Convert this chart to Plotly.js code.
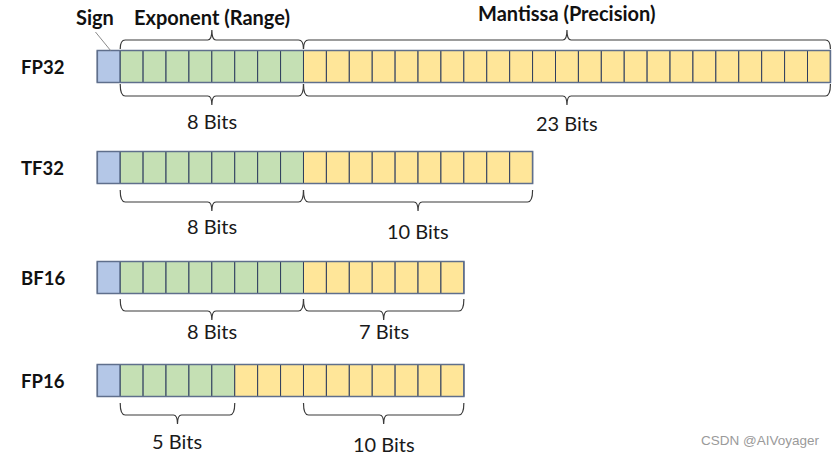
<!DOCTYPE html>
<html>
<head>
<meta charset="utf-8">
<script src="https://cdn.plot.ly/plotly-3.0.1.min.js"></script>
<style>html,body{margin:0;padding:0;background:#fff;}#chart{width:836px;height:457px;}</style>
</head>
<body>
<div id="chart"></div>
<script>
// ---- data ----
const formats = ['FP32', 'TF32', 'BF16', 'FP16'];
const signBits = [1, 1, 1, 1];
const exponentBits = [8, 8, 8, 5];
const mantissaBits = [23, 10, 7, 10];
const exponentLabels = ['8 Bits', '8 Bits', '8 Bits', '5 Bits'];
const mantissaLabels = ['23 Bits', '10 Bits', '7 Bits', '10 Bits'];
// bits spanned by the mantissa brace as drawn (FP16 brace covers the last 7 cells)
const mantissaBraceBits = [23, 10, 7, 7];
const topLabels = ['Sign', 'Exponent (Range)', 'Mantissa (Precision)'];
const watermark = 'CSDN @AIVoyager';

// ---- layout / style constants ----
const W = 836, H = 457;
const cellPx = 22.91, originPx = 97.3;
const rowTop = [50.5, 151.5, 261.5, 364.5];
const rowH = 32;
const braceTop = [84, 190, 299, 403];
const braceDepth = 12, braceTip = 9;
const expLabelY = [121, 226, 331, 441];
const manLabelY = [123, 231, 331, 444];
const colors = {sign: '#b4c7e7', exp: '#c5e0b4', man: '#ffe699', cell: '#2e3d5e', outer: '#5f6f8c'};
const font = 'Lato, "Open Sans", sans-serif';

const shapes = [];
const annotations = [];

function bracePath(x0, x1, yEnd, yLine, yTip) {
  const r = 0.22, t = 0.18;
  const xm = (x0 + x1) / 2;
  return `M${x0},${yEnd} Q${x0},${yLine} ${x0 + r},${yLine} L${xm - t},${yLine} ` +
         `Q${xm},${yLine} ${xm},${yTip} Q${xm},${yLine} ${xm + t},${yLine} ` +
         `L${x1 - r},${yLine} Q${x1},${yLine} ${x1},${yEnd}`;
}

formats.forEach((f, i) => {
  const y0 = rowTop[i], y1 = rowTop[i] + rowH;
  const total = signBits[i] + exponentBits[i] + mantissaBits[i];
  for (let b = 0; b < total; b++) {
    let fill = colors.man;
    if (b < signBits[i]) fill = colors.sign;
    else if (b < signBits[i] + exponentBits[i]) fill = colors.exp;
    shapes.push({type: 'rect', xref: 'x', yref: 'y', x0: b, x1: b + 1, y0: y0, y1: y1,
      fillcolor: fill, line: {color: colors.cell, width: 1}, layer: 'above'});
  }
  shapes.push({type: 'rect', xref: 'x', yref: 'y', x0: 0, x1: total, y0: y0, y1: y1,
    fillcolor: 'rgba(0,0,0,0)', line: {color: colors.outer, width: 1.6}, layer: 'above'});

  // row label
  annotations.push({xref: 'paper', yref: 'y', x: 19 / W, y: (y0 + y1) / 2, xanchor: 'left', yanchor: 'middle',
    text: '<b>' + f + '</b>', showarrow: false, font: {family: font, size: 18.5, color: '#111'}});

  // bottom braces
  const ye = braceTop[i], yl = braceTop[i] + braceDepth, yt = yl + braceTip;
  const e0 = signBits[i], e1 = signBits[i] + exponentBits[i];
  shapes.push({type: 'path', xref: 'x', yref: 'y', path: bracePath(e0, e1, ye, yl, yt),
    line: {color: '#3a3a3a', width: 1.2}});
  const m1 = total, m0 = total - mantissaBraceBits[i];
  shapes.push({type: 'path', xref: 'x', yref: 'y', path: bracePath(m0, m1, ye, yl, yt),
    line: {color: '#3a3a3a', width: 1.2}});
  annotations.push({xref: 'x', yref: 'y', x: (e0 + e1) / 2, y: expLabelY[i], xanchor: 'center', yanchor: 'middle',
    text: exponentLabels[i], showarrow: false, font: {family: font, size: 20, color: '#1a1a1a'}});
  annotations.push({xref: 'x', yref: 'y', x: (m0 + m1) / 2, y: manLabelY[i], xanchor: 'center', yanchor: 'middle',
    text: mantissaLabels[i], showarrow: false, font: {family: font, size: 20, color: '#1a1a1a'}});

  // top braces only on FP32
  if (i === 0) {
    const tE = rowTop[0] - 1.5, tL = 40, tT = 30;
    shapes.push({type: 'path', xref: 'x', yref: 'y', path: bracePath(e0, e1, tE, tL, tT),
      line: {color: '#3a3a3a', width: 1.2}});
    shapes.push({type: 'path', xref: 'x', yref: 'y', path: bracePath(e1, total, tE, tL, tT),
      line: {color: '#3a3a3a', width: 1.2}});
    // sign pointer line
    shapes.push({type: 'line', xref: 'x', yref: 'y', x0: -0.08, y0: 32, x1: 0.58, y1: 50.5,
      line: {color: '#8a8a8a', width: 1}});
    annotations.push({xref: 'x', yref: 'y', x: -0.12, y: 17, xanchor: 'center', yanchor: 'middle',
      text: '<b>' + topLabels[0] + '</b>', showarrow: false, font: {family: font, size: 20, color: '#111'}});
    annotations.push({xref: 'x', yref: 'y', x: (e0 + e1) / 2, y: 16.5, xanchor: 'center', yanchor: 'middle',
      text: '<b>' + topLabels[1] + '</b>', showarrow: false, font: {family: font, size: 20, color: '#111'}});
    annotations.push({xref: 'x', yref: 'y', x: (e1 + total) / 2, y: 12.5, xanchor: 'center', yanchor: 'middle',
      text: '<b>' + topLabels[2] + '</b>', showarrow: false, font: {family: font, size: 20, color: '#111'}});
  }
});

annotations.push({xref: 'paper', yref: 'paper', x: 822 / W, y: 1 - 440 / H, xanchor: 'right', yanchor: 'middle',
  text: watermark, showarrow: false, font: {family: 'Liberation Sans, Arial, sans-serif', size: 13.5, color: '#9a9a9a'}});

const layout = {
  width: W, height: H,
  margin: {l: 0, r: 0, t: 0, b: 0},
  paper_bgcolor: '#fff', plot_bgcolor: '#fff',
  showlegend: false,
  xaxis: {range: [-originPx / cellPx, (W - originPx) / cellPx], visible: false, fixedrange: true},
  yaxis: {range: [H, 0], visible: false, fixedrange: true},
  shapes: shapes,
  annotations: annotations
};

Plotly.newPlot('chart', [{x: [], y: [], type: 'scatter', mode: 'markers', hoverinfo: 'skip'}], layout,
  {staticPlot: true, displayModeBar: false});
</script>
</body>
</html>
